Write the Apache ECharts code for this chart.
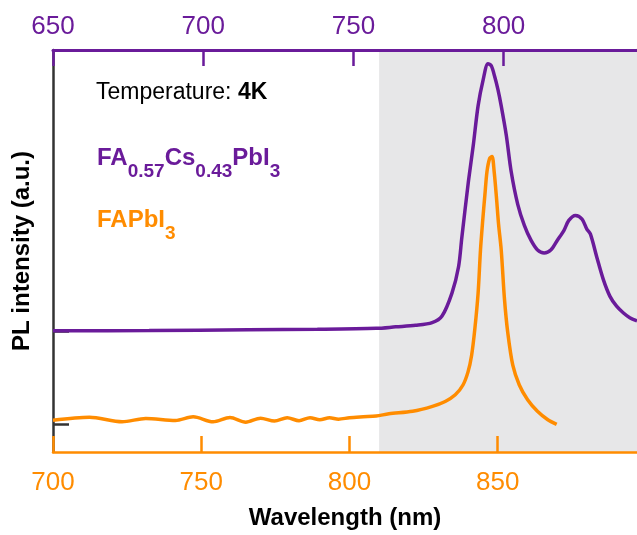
<!DOCTYPE html>
<html>
<head>
<meta charset="utf-8">
<script src="https://cdn.jsdelivr.net/npm/echarts@6/dist/echarts.min.js"></script>
<style>
  html, body { margin: 0; padding: 0; background: #ffffff; }
  #chart { width: 637px; height: 535px; }
</style>
</head>
<body>
<div id="chart"></div>
<script>
// PL spectra at 4 K: mixed-cation film (top wavelength axis) and FAPbI3 (bottom wavelength axis)

// FA0.57Cs0.43PbI3 spectrum, wavelength (nm) on the top axis
const MIXED_WAVELENGTH = [650, 682, 715, 738, 757.6, 764.1, 770.7, 776.2, 779.5, 782.8, 785.0, 786.1,
  788.3, 789.9, 791.5, 793.2, 794.8, 795.9, 797.0, 798.1, 799.2, 800.9, 802.5, 804.7, 806.9, 809.1,
  811.3, 813.5, 815.7, 817.9, 820.1, 821.7, 823.9, 826.1, 827.7, 828.9, 831.0, 833.2, 835.4, 837.6,
  839.8, 842.0, 844.4];
const MIXED_PL = [0.000, 0.002, 0.011, 0.016, 0.026, 0.042, 0.058, 0.087, 0.158, 0.403, 0.684, 1.000,
  1.600, 1.982, 2.403, 2.684, 2.853, 2.832, 2.719, 2.579, 2.403, 2.087, 1.705, 1.351, 1.126, 0.968,
  0.863, 0.832, 0.863, 0.968, 1.074, 1.179, 1.232, 1.193, 1.087, 1.032, 0.789, 0.547, 0.368, 0.263,
  0.193, 0.140, 0.105];

// FAPbI3 spectrum, wavelength (nm) on the bottom axis
const FA_WAVELENGTH = [700, 712.3, 723.3, 731.3, 741.3, 747.3, 754.0, 759.7, 765.0, 770.0, 774.7,
  779.0, 783.0, 786.7, 790.0, 793.3, 796.3, 800.0, 804.7, 809.0, 813.3, 821.3, 828.0, 832.3, 835.7,
  838.3, 840.0, 841.2, 842.3, 843.4, 844.2, 844.9, 845.7, 846.4, 847.3, 848.1, 848.8, 849.6, 850.3,
  851.2, 852.3, 853.4, 855.1, 857.3, 860.1, 863.4, 866.8, 869.9];
const FA_PL = [0.045, 0.077, 0.028, 0.063, 0.042, 0.081, 0.028, 0.074, 0.024, 0.066, 0.035,
  0.071, 0.039, 0.071, 0.049, 0.071, 0.056, 0.071, 0.081, 0.089, 0.113, 0.140, 0.193, 0.245, 0.316,
  0.421, 0.561, 0.737, 1.021, 1.403, 1.863, 2.158, 2.456, 2.702, 2.842, 2.863, 2.705, 2.421, 2.140,
  1.863, 1.337, 0.982, 0.632, 0.421, 0.263, 0.140, 0.053, 0.000];

// vertical offsets of the two traces (baselines marked by y ticks)
const FA_OFFSET = 0;
const MIXED_OFFSET = 1;
const Y_TICKS = [FA_OFFSET, MIXED_OFFSET];

// shaded wavelength band (bottom axis, nm)
const SHADED_BAND = [810, 897];

// axis ranges and tick step
const BOTTOM_RANGE = [700, 897];
const TOP_RANGE = [650, 844.4];
const Y_RANGE = [-0.295, 4.0];
const TICK_STEP = 50;

const FONT = '"Liberation Sans", Arial, Helvetica, sans-serif';
const PURPLE = '#6a1b9a';
const ORANGE = '#ff8c00';
const DARK = '#333333';

function pairs(xs, ys, offset) {
  return xs.map((x, i) => [x, ys[i] + offset]);
}

const chart = echarts.init(document.getElementById('chart'), null, { renderer: 'canvas' });

const yAxisCommon = {
  type: 'value',
  min: Y_RANGE[0],
  max: Y_RANGE[1],
  axisLine: { show: true, onZero: false, lineStyle: { color: DARK, width: 2.5 } },
  axisTick: { show: true, inside: true, length: 16, customValues: Y_TICKS, lineStyle: { color: DARK, width: 2.5 } },
  axisLabel: { show: false },
  splitLine: { show: false }
};

// sub-script text pieces: formula tokens drop below the main baseline
function formulaRich(color) {
  return {
    m: { fontSize: 24, lineHeight: 24, fontWeight: 'bold', fontFamily: FONT, fill: color, verticalAlign: 'top' },
    s: { fontSize: 19, lineHeight: 35, fontWeight: 'bold', fontFamily: FONT, fill: color, verticalAlign: 'bottom', padding: [16, 0, 0, 0] }
  };
}

chart.setOption({
  animation: false,
  backgroundColor: '#ffffff',
  grid: { left: 53, top: 50, width: 591, height: 408, containLabel: false },
  xAxis: [
    {
      type: 'value', position: 'bottom', z: 10,
      min: BOTTOM_RANGE[0], max: BOTTOM_RANGE[1], interval: TICK_STEP,
      axisLine: { onZero: false, lineStyle: { color: ORANGE, width: 2.5 } },
      axisTick: { inside: true, length: 16, lineStyle: { color: ORANGE, width: 2.5 } },
      axisLabel: { color: ORANGE, fontSize: 26, fontFamily: FONT, margin: 18, showMaxLabel: false },
      splitLine: { show: false },
      name: 'Wavelength (nm)', nameLocation: 'middle', nameGap: 54,
      nameTextStyle: { color: '#000000', fontSize: 24, fontWeight: 'bold', fontFamily: FONT }
    },
    {
      type: 'value', position: 'top', z: 10,
      min: TOP_RANGE[0], max: TOP_RANGE[1], interval: TICK_STEP,
      axisLine: { onZero: false, lineStyle: { color: PURPLE, width: 3 } },
      axisTick: { inside: true, length: 16, lineStyle: { color: PURPLE, width: 2.5 } },
      axisLabel: { color: PURPLE, fontSize: 26, fontFamily: FONT, margin: 10, showMaxLabel: false },
      splitLine: { show: false }
    }
  ],
  yAxis: [
    Object.assign({}, yAxisCommon, {
      position: 'left',
      name: 'PL intensity (a.u.)', nameLocation: 'middle', nameGap: 19,
      nameTextStyle: { color: '#000000', fontSize: 24, fontWeight: 'bold', fontFamily: FONT }
    }),
    Object.assign({}, yAxisCommon, { position: 'right' })
  ],
  series: [
    {
      type: 'line', xAxisIndex: 0, yAxisIndex: 0, data: [], z: 1, silent: true,
      markArea: {
        silent: true,
        itemStyle: { color: '#e7e7e8' },
        data: [[{ xAxis: SHADED_BAND[0] }, { xAxis: SHADED_BAND[1] }]]
      }
    },
    {
      name: 'FAPbI3', type: 'line', xAxisIndex: 0, yAxisIndex: 0, z: 3,
      data: pairs(FA_WAVELENGTH, FA_PL, FA_OFFSET),
      showSymbol: false, smooth: 0.3,
      lineStyle: { color: ORANGE, width: 3.5 }
    },
    {
      name: 'FA0.57Cs0.43PbI3', type: 'line', xAxisIndex: 1, yAxisIndex: 0, z: 4,
      data: pairs(MIXED_WAVELENGTH, MIXED_PL, MIXED_OFFSET),
      showSymbol: false, smooth: 0.3,
      lineStyle: { color: PURPLE, width: 3.5 }
    }
  ],
  graphic: [
    {
      type: 'text', x: 96, y: 81, z: 20,
      style: {
        text: '{n|Temperature: }{b|4K}',
        align: 'left', verticalAlign: 'top',
        fill: '#000000', fontFamily: FONT, fontSize: 23,
        rich: {
          n: { fontSize: 23, fontFamily: FONT, fill: '#000000' },
          b: { fontSize: 23, fontFamily: FONT, fontWeight: 'bold', fill: '#000000' }
        }
      }
    },
    {
      type: 'text', x: 97, y: 146, z: 20,
      style: {
        text: '{m|FA}{s|0.57}{m|Cs}{s|0.43}{m|PbI}{s|3}',
        align: 'left', verticalAlign: 'top',
        fill: PURPLE, fontFamily: FONT, fontSize: 24, fontWeight: 'bold',
        rich: formulaRich(PURPLE)
      }
    },
    {
      type: 'text', x: 97, y: 208, z: 20,
      style: {
        text: '{m|FAPbI}{s|3}',
        align: 'left', verticalAlign: 'top',
        fill: ORANGE, fontFamily: FONT, fontSize: 24, fontWeight: 'bold',
        rich: formulaRich(ORANGE)
      }
    }
  ]
});
</script>
</body>
</html>
